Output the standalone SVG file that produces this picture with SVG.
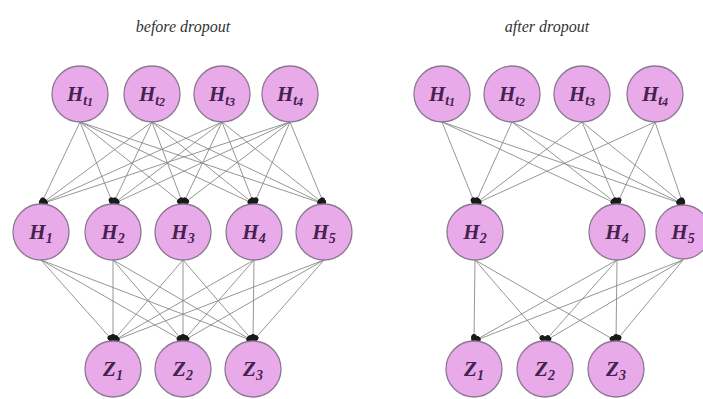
<svg xmlns="http://www.w3.org/2000/svg" width="703" height="399" viewBox="0 0 703 399">
<style>
.n{fill:#e8aae8;stroke:#8a7890;stroke-width:1.3}
.t{font-family:"Liberation Serif","DejaVu Serif",serif;font-style:italic;font-weight:bold;font-size:21px;fill:#45224f;text-anchor:middle}
.s{font-size:14px}
.ss{font-size:12px}
.ti{font-family:"Liberation Serif","DejaVu Serif",serif;font-style:italic;font-size:16px;fill:#333333;text-anchor:middle}
.c line{stroke:#8a8a8a;stroke-width:0.9;marker-end:url(#d)}
</style>
<defs>
<marker id="d" viewBox="0 0 8 6" refX="7" refY="3" markerWidth="8" markerHeight="6" markerUnits="userSpaceOnUse" orient="auto">
<ellipse cx="4" cy="3" rx="4" ry="3" fill="#1a1a1a"/>
</marker>
</defs>
<rect width="703" height="399" fill="#ffffff"/>
<text class="ti" x="183" y="32">before dropout</text>
<text class="ti" x="547" y="32">after dropout</text>
<g class="c" id="connectors">
<line x1="80" y1="122" x2="41" y2="204"/><line x1="80" y1="122" x2="113" y2="204"/><line x1="80" y1="122" x2="183" y2="204"/><line x1="80" y1="122" x2="254" y2="204"/><line x1="80" y1="122" x2="324" y2="204"/>
<line x1="152" y1="122" x2="41" y2="204"/><line x1="152" y1="122" x2="113" y2="204"/><line x1="152" y1="122" x2="183" y2="204"/><line x1="152" y1="122" x2="254" y2="204"/><line x1="152" y1="122" x2="324" y2="204"/>
<line x1="222" y1="122" x2="41" y2="204"/><line x1="222" y1="122" x2="113" y2="204"/><line x1="222" y1="122" x2="183" y2="204"/><line x1="222" y1="122" x2="254" y2="204"/><line x1="222" y1="122" x2="324" y2="204"/>
<line x1="290" y1="122" x2="41" y2="204"/><line x1="290" y1="122" x2="113" y2="204"/><line x1="290" y1="122" x2="183" y2="204"/><line x1="290" y1="122" x2="254" y2="204"/><line x1="290" y1="122" x2="324" y2="204"/>
<line x1="41" y1="260" x2="113" y2="341"/><line x1="41" y1="260" x2="183" y2="341"/><line x1="41" y1="260" x2="253" y2="341"/>
<line x1="113" y1="260" x2="113" y2="341"/><line x1="113" y1="260" x2="183" y2="341"/><line x1="113" y1="260" x2="253" y2="341"/>
<line x1="183" y1="260" x2="113" y2="341"/><line x1="183" y1="260" x2="183" y2="341"/><line x1="183" y1="260" x2="253" y2="341"/>
<line x1="254" y1="260" x2="113" y2="341"/><line x1="254" y1="260" x2="183" y2="341"/><line x1="254" y1="260" x2="253" y2="341"/>
<line x1="324" y1="260" x2="113" y2="341"/><line x1="324" y1="260" x2="183" y2="341"/><line x1="324" y1="260" x2="253" y2="341"/>
<line x1="442" y1="122" x2="475" y2="204"/><line x1="442" y1="122" x2="617" y2="204"/><line x1="442" y1="122" x2="683" y2="204"/>
<line x1="512" y1="122" x2="475" y2="204"/><line x1="512" y1="122" x2="617" y2="204"/><line x1="512" y1="122" x2="683" y2="204"/>
<line x1="582" y1="122" x2="475" y2="204"/><line x1="582" y1="122" x2="617" y2="204"/><line x1="582" y1="122" x2="683" y2="204"/>
<line x1="655" y1="122" x2="475" y2="204"/><line x1="655" y1="122" x2="617" y2="204"/><line x1="655" y1="122" x2="683" y2="204"/>
<line x1="475" y1="260" x2="474" y2="341"/><line x1="475" y1="260" x2="545" y2="341"/><line x1="475" y1="260" x2="616" y2="341"/>
<line x1="617" y1="260" x2="474" y2="341"/><line x1="617" y1="260" x2="545" y2="341"/><line x1="617" y1="260" x2="616" y2="341"/>
<line x1="683" y1="260" x2="474" y2="341"/><line x1="683" y1="260" x2="545" y2="341"/><line x1="683" y1="260" x2="616" y2="341"/>
</g>
<g id="L_Ht1"><circle class="n" cx="80" cy="94" r="28"/><text class="t" x="80" y="101">H<tspan class="s" dy="4">t</tspan><tspan class="ss" dy="1">1</tspan></text></g>
<g id="L_Ht2"><circle class="n" cx="152" cy="94" r="28"/><text class="t" x="152" y="101">H<tspan class="s" dy="4">t</tspan><tspan class="ss" dy="1">2</tspan></text></g>
<g id="L_Ht3"><circle class="n" cx="222" cy="94" r="28"/><text class="t" x="222" y="101">H<tspan class="s" dy="4">t</tspan><tspan class="ss" dy="1">3</tspan></text></g>
<g id="L_Ht4"><circle class="n" cx="290" cy="94" r="28"/><text class="t" x="290" y="101">H<tspan class="s" dy="4">t</tspan><tspan class="ss" dy="1">4</tspan></text></g>
<g id="L_H1"><circle class="n" cx="41" cy="232" r="28"/><text class="t" x="41" y="239">H<tspan class="s" dy="4">1</tspan></text></g>
<g id="L_H2"><circle class="n" cx="113" cy="232" r="28"/><text class="t" x="113" y="239">H<tspan class="s" dy="4">2</tspan></text></g>
<g id="L_H3"><circle class="n" cx="183" cy="232" r="28"/><text class="t" x="183" y="239">H<tspan class="s" dy="4">3</tspan></text></g>
<g id="L_H4"><circle class="n" cx="254" cy="232" r="28"/><text class="t" x="254" y="239">H<tspan class="s" dy="4">4</tspan></text></g>
<g id="L_H5"><circle class="n" cx="324" cy="232" r="28"/><text class="t" x="324" y="239">H<tspan class="s" dy="4">5</tspan></text></g>
<g id="L_Z1"><circle class="n" cx="113" cy="369" r="28"/><text class="t" x="113" y="376">Z<tspan class="s" dy="4">1</tspan></text></g>
<g id="L_Z2"><circle class="n" cx="183" cy="369" r="28"/><text class="t" x="183" y="376">Z<tspan class="s" dy="4">2</tspan></text></g>
<g id="L_Z3"><circle class="n" cx="253" cy="369" r="28"/><text class="t" x="253" y="376">Z<tspan class="s" dy="4">3</tspan></text></g>
<g id="R_Ht1"><circle class="n" cx="442" cy="94" r="28"/><text class="t" x="442" y="101">H<tspan class="s" dy="4">t</tspan><tspan class="ss" dy="1">1</tspan></text></g>
<g id="R_Ht2"><circle class="n" cx="512" cy="94" r="28"/><text class="t" x="512" y="101">H<tspan class="s" dy="4">t</tspan><tspan class="ss" dy="1">2</tspan></text></g>
<g id="R_Ht3"><circle class="n" cx="582" cy="94" r="28"/><text class="t" x="582" y="101">H<tspan class="s" dy="4">t</tspan><tspan class="ss" dy="1">3</tspan></text></g>
<g id="R_Ht4"><circle class="n" cx="655" cy="94" r="28"/><text class="t" x="655" y="101">H<tspan class="s" dy="4">t</tspan><tspan class="ss" dy="1">4</tspan></text></g>
<g id="R_H2"><circle class="n" cx="475" cy="232" r="28"/><text class="t" x="475" y="239">H<tspan class="s" dy="4">2</tspan></text></g>
<g id="R_H4"><circle class="n" cx="617" cy="232" r="28"/><text class="t" x="617" y="239">H<tspan class="s" dy="4">4</tspan></text></g>
<g id="R_H5"><circle class="n" cx="683" cy="232" r="27"/><text class="t" x="683" y="239">H<tspan class="s" dy="4">5</tspan></text></g>
<g id="R_Z1"><circle class="n" cx="474" cy="369" r="28"/><text class="t" x="474" y="376">Z<tspan class="s" dy="4">1</tspan></text></g>
<g id="R_Z2"><circle class="n" cx="545" cy="369" r="28"/><text class="t" x="545" y="376">Z<tspan class="s" dy="4">2</tspan></text></g>
<g id="R_Z3"><circle class="n" cx="616" cy="369" r="28"/><text class="t" x="616" y="376">Z<tspan class="s" dy="4">3</tspan></text></g>
</svg>
